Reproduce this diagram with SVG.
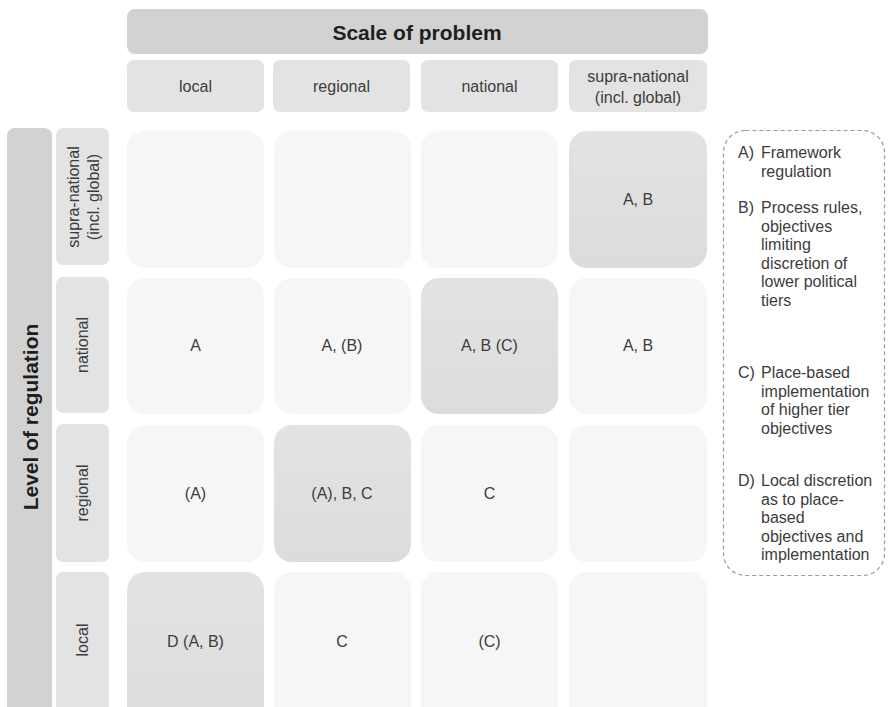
<svg xmlns="http://www.w3.org/2000/svg" width="889" height="707" viewBox="0 0 889 707">
<defs>
<linearGradient id="dk" x1="0" y1="0" x2="0" y2="1"><stop offset="0" stop-color="#e3e3e3"/><stop offset="1" stop-color="#dcdcdc"/></linearGradient>
</defs>
<style>
text{font-family:"Liberation Sans",Arial,sans-serif;fill:#3c3c3c;font-size:16px}
.c{text-anchor:middle;dominant-baseline:central}
.b{font-weight:bold;font-size:21px;fill:#1e1e1e}
.title{fill:#d2d2d2}
.hdr{fill:#e3e3e3}
.lt{fill:#f6f6f6}
.dk{fill:url(#dk)}
.leg{fill:none;stroke:#9a9a9a;stroke-width:1.2;stroke-dasharray:4 3}
</style>
<rect width="889" height="707" fill="#ffffff"/>
<g id="scale-title"><rect class="title" x="127" y="9" width="581" height="45" rx="8"/><text class="c b" x="417" y="32">Scale of problem</text></g>
<g id="col-local"><rect class="hdr" x="127" y="60" width="137" height="52" rx="7"/><text class="c" x="195.5" y="86">local</text></g>
<g id="col-regional"><rect class="hdr" x="273" y="60" width="137" height="52" rx="7"/><text class="c" x="341.5" y="86">regional</text></g>
<g id="col-national"><rect class="hdr" x="421" y="60" width="137" height="52" rx="7"/><text class="c" x="489.5" y="86">national</text></g>
<g id="col-supra"><rect class="hdr" x="569" y="60" width="138" height="52" rx="7"/><text class="c" x="638" y="76">supra-national</text><text class="c" x="638" y="97">(incl. global)</text></g>
<g id="level-title"><rect class="title" x="7" y="128" width="45" height="600" rx="8"/><text class="c b" transform="translate(30,417) rotate(-90)">Level of regulation</text></g>
<g id="row-supra"><rect class="hdr" x="56" y="128" width="53" height="137" rx="7"/><text class="c" transform="translate(73,197) rotate(-90)">supra-national</text><text class="c" transform="translate(93,197) rotate(-90)">(incl. global)</text></g>
<g id="row-national"><rect class="hdr" x="56" y="277" width="53" height="136" rx="7"/><text class="c" transform="translate(82.5,345) rotate(-90)">national</text></g>
<g id="row-regional"><rect class="hdr" x="56" y="424" width="53" height="138" rx="7"/><text class="c" transform="translate(82.5,493) rotate(-90)">regional</text></g>
<g id="row-local"><rect class="hdr" x="56" y="572" width="53" height="160" rx="7"/><text class="c" transform="translate(82.5,640) rotate(-90)">local</text></g>
<g id="cells">
<g id="c-s-l"><rect class="lt" x="127" y="131" width="137" height="137" rx="18"/></g>
<g id="c-s-r"><rect class="lt" x="274" y="131" width="137" height="137" rx="18"/></g>
<g id="c-s-n"><rect class="lt" x="421" y="131" width="137" height="137" rx="18"/></g>
<g id="c-s-s"><rect class="dk" x="569" y="131" width="138" height="137" rx="18"/><text class="c" x="638" y="199">A, B</text></g>
<g id="c-n-l"><rect class="lt" x="127" y="278" width="137" height="136" rx="18"/><text class="c" x="195.5" y="345">A</text></g>
<g id="c-n-r"><rect class="lt" x="274" y="278" width="137" height="136" rx="18"/><text class="c" x="342" y="345">A, (B)</text></g>
<g id="c-n-n"><rect class="dk" x="421" y="278" width="137" height="136" rx="18"/><text class="c" x="489.5" y="345">A, B (C)</text></g>
<g id="c-n-s"><rect class="lt" x="569" y="278" width="138" height="136" rx="18"/><text class="c" x="638" y="345">A, B</text></g>
<g id="c-r-l"><rect class="lt" x="127" y="425" width="137" height="137" rx="18"/><text class="c" x="195.5" y="493">(A)</text></g>
<g id="c-r-r"><rect class="dk" x="274" y="425" width="137" height="137" rx="18"/><text class="c" x="342" y="493">(A), B, C</text></g>
<g id="c-r-n"><rect class="lt" x="421" y="425" width="137" height="137" rx="18"/><text class="c" x="489.5" y="493">C</text></g>
<g id="c-r-s"><rect class="lt" x="569" y="425" width="138" height="137" rx="18"/></g>
<g id="c-l-l"><rect class="dk" x="127" y="572" width="137" height="160" rx="18"/><text class="c" x="195.5" y="641">D (A, B)</text></g>
<g id="c-l-r"><rect class="lt" x="274" y="572" width="137" height="160" rx="18"/><text class="c" x="342" y="641">C</text></g>
<g id="c-l-n"><rect class="lt" x="421" y="572" width="137" height="160" rx="18"/><text class="c" x="489.5" y="641">(C)</text></g>
<g id="c-l-s"><rect class="lt" x="569" y="572" width="138" height="160" rx="18"/></g>
</g>
<g id="legend">
<rect class="leg" x="723.5" y="130.5" width="161" height="445" rx="22"/>
<text x="738" y="158">A)</text>
<text x="761" y="158">Framework</text>
<text x="761" y="176.5">regulation</text>
<text x="738" y="213">B)</text>
<text x="761" y="213">Process rules,</text>
<text x="761" y="231.5">objectives</text>
<text x="761" y="250">limiting</text>
<text x="761" y="268.5">discretion of</text>
<text x="761" y="287">lower political</text>
<text x="761" y="305.5">tiers</text>
<text x="738" y="378">C)</text>
<text x="761" y="378">Place-based</text>
<text x="761" y="396.5">implementation</text>
<text x="761" y="415">of higher tier</text>
<text x="761" y="433.5">objectives</text>
<text x="738" y="486">D)</text>
<text x="761" y="486">Local discretion</text>
<text x="761" y="504.5">as to place-</text>
<text x="761" y="523">based</text>
<text x="761" y="541.5">objectives and</text>
<text x="761" y="560">implementation</text>
</g>
<g id="connectors"/>
</svg>
